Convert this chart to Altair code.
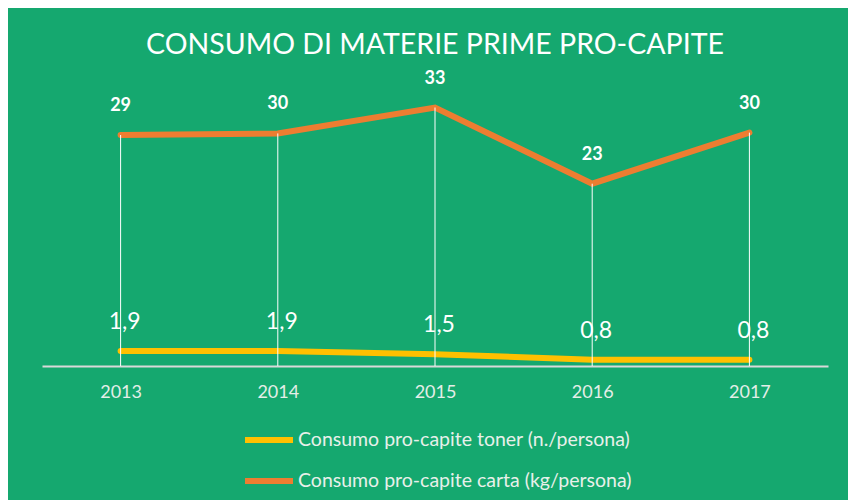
import altair as alt
import pandas as pd

years = ["2013", "2014", "2015", "2016", "2017"]
toner = [1.9, 1.9, 1.5, 0.8, 0.8]
carta = [29.4, 29.6, 32.9, 23.2, 29.7]
series_toner = "Consumo pro-capite toner (n./persona)"
series_carta = "Consumo pro-capite carta (kg/persona)"
title_text = "CONSUMO DI MATERIE PRIME PRO-CAPITE"

rows = []
for a, t, c in zip(years, toner, carta):
    rows.append({"anno": a, "serie": series_toner, "valore": t})
    rows.append({"anno": a, "serie": series_carta, "valore": c})
df = pd.DataFrame(rows)
df_carta = pd.DataFrame({"anno": years, "valore": carta})
df_toner = pd.DataFrame({"anno": years, "valore": toner})

FONT = "Lato"
x = alt.X(
    "anno:O",
    scale=alt.Scale(type="point", padding=0.5),
    axis=alt.Axis(
        title=None, labelAngle=0, ticks=False, tickSize=0, domainColor="#D9D9D9",
        domainWidth=2, labelColor="#E4EEE8", labelFontSize=18, labelPadding=17,
        grid=False, labelFont=FONT,
    ),
)
y = alt.Y("valore:Q", scale=alt.Scale(domain=[0, 35], nice=False, zero=True), axis=None)

color = alt.Color(
    "serie:N",
    scale=alt.Scale(domain=[series_toner, series_carta], range=["#FFC000", "#ED7D31"]),
    legend=alt.Legend(
        title=None, orient="none", legendX=200, legendY=322, direction="vertical",
        symbolType="stroke", symbolStrokeWidth=6, symbolSize=2304,
        labelFontSize=19.5, labelColor="#E8F0EA", labelFont=FONT, rowPadding=2,
        labelOffset=2, labelLimit=500,
    ),
)

rules = alt.Chart(df_carta).mark_rule(color="white", strokeWidth=1).encode(
    x=x, y=y, y2=alt.datum(0)
)

toner_line = alt.Chart(df).transform_filter(
    alt.datum.serie == series_toner
).mark_line(strokeWidth=6, strokeCap="round").encode(x=x, y=y, color=color)

carta_line = alt.Chart(df).transform_filter(
    alt.datum.serie == series_carta
).mark_line(strokeWidth=6, strokeCap="round").encode(x=x, y=y, color=color)

carta_labels = alt.Chart(df_carta).mark_text(
    dy=-29, fontSize=18, fontWeight="bold", color="white", font=FONT
).encode(x=x, y=y, text=alt.Text("valore:Q", format=".0f"))

toner_labels = alt.Chart(df_toner).transform_calculate(
    label="replace(format(datum.valore, '.1f'), '.', ',')"
).mark_text(dy=-29, dx=4, fontSize=23, color="white", font=FONT).encode(
    x=x, y=y, text="label:N"
)

chart = alt.layer(toner_line, carta_line, rules, carta_labels, toner_labels).properties(
    width=786,
    height=275,
    autosize=alt.AutoSizeParams(type="none"),
    padding={"left": 34, "top": 83, "right": 20, "bottom": 134},
    background="#15A86F",
    title=alt.TitleParams(
        title_text, color="white", fontSize=28.5, font=FONT, fontWeight="normal",
        anchor="middle", offset=10,
    ),
).configure_view(stroke=None)

chart.save("out.html", embed_options={"renderer": "svg", "actions": False})
